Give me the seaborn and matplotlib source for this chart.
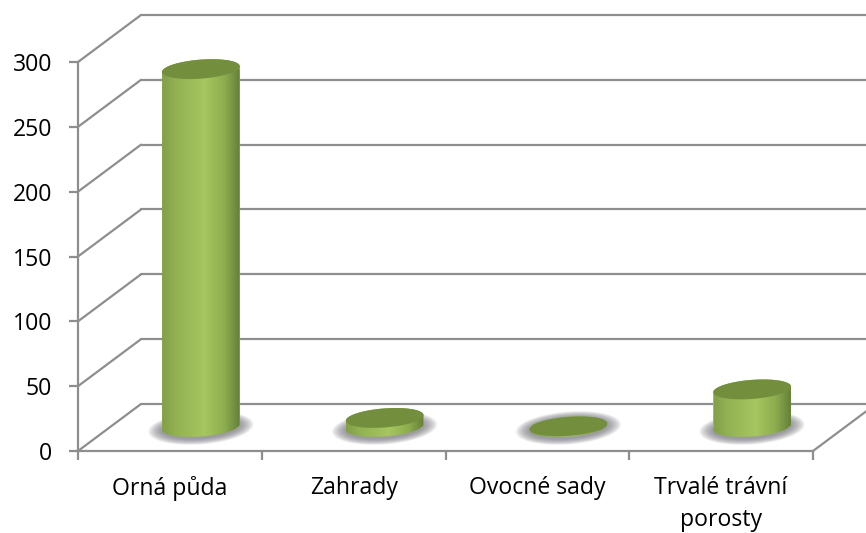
import numpy as np
import pandas as pd
import matplotlib
matplotlib.use("Agg")
import matplotlib.pyplot as plt
import seaborn as sns
from matplotlib.path import Path
from matplotlib.patches import PathPatch
from matplotlib.transforms import Affine2D, IdentityTransform
from matplotlib.colors import LinearSegmentedColormap

categories = ["Orná půda", "Zahrady", "Ovocné sady", "Trvalé trávní\nporosty"]
values = [276, 7, 0.5, 29]
y_ticks = [0, 50, 100, 150, 200, 250, 300]

sns.set_theme(style="white")
plt.rcParams["font.family"] = ["Open Sans", "DejaVu Sans"]

W, H = 866, 533
fig = plt.figure(figsize=(W / 100, H / 100), dpi=100)
ax = fig.add_axes([78 / W, (H - 451) / H, (813 - 78) / W, (451 - 62) / H])

df = pd.DataFrame({"category": categories, "value": values})
sns.barplot(data=df, x="category", y="value", width=0.424, color="#9DBD58",
            saturation=1, ax=ax, zorder=3)
ax.set_xlim(-0.5, 3.5)
ax.set_ylim(0, 300)
ax.set_xlabel("")
ax.set_ylabel("")
ax.set_yticks(y_ticks)
ax.set_xticks(np.arange(len(categories) + 1) - 0.5, minor=True)

GRID = "#8E8E8E"
LW = 1.6
for s in ("top", "right"):
    ax.spines[s].set_visible(False)
for s in ("left", "bottom"):
    ax.spines[s].set_color(GRID)
    ax.spines[s].set_linewidth(LW)
ax.tick_params(axis="y", length=6.5, width=LW, color=GRID, pad=12, labelsize=16.6, labelcolor="black", left=True)
ax.tick_params(axis="x", which="major", length=0, pad=18, labelsize=16.6, labelcolor="black", bottom=False)
ax.tick_params(axis="x", which="minor", length=6.5, width=LW, color=GRID, bottom=True)
for t in ax.get_xticklabels():
    t.set_linespacing(1.42)
for t in ax.get_yticklabels():
    t.set_verticalalignment("center_baseline")

# wall / floor depth offset in pixels
DX, DY = 63, 47
wall = Affine2D().translate(DX, DY)
for v in y_ticks:
    ax.plot([-0.5, 3.5], [v, v], color=GRID, lw=LW, clip_on=False, zorder=1,
            transform=ax.transData + wall)
    x0, y0 = ax.transData.transform((-0.5, v))
    ax.plot([x0, x0 + DX], [y0, y0 + DY], color=GRID, lw=LW, clip_on=False, zorder=1,
            transform=IdentityTransform())
x0, y0 = ax.transData.transform((3.5, 0))
ax.plot([x0, x0 + DX], [y0, y0 + DY], color=GRID, lw=LW, clip_on=False, zorder=1,
        transform=IdentityTransform())

# cylinders
OX, OY = 31, 24
offset = Affine2D().translate(OX, OY)
TILT = np.deg2rad(4.4)
B = 9.5
cmap = LinearSegmentedColormap.from_list(
    "cyl", [(0, "#82A048"), (0.2, "#93B353"), (0.55, "#A5C660"), (0.8, "#8EAD4E"), (1, "#64803A")])
grad = np.linspace(0, 1, 256).reshape(1, -1)


def ell(cx, cy, a, b, t):
    px = a * np.cos(t)
    py = b * np.sin(t)
    return np.column_stack([cx + px * np.cos(TILT) - py * np.sin(TILT),
                            cy + px * np.sin(TILT) + py * np.cos(TILT)])


full = np.linspace(0, 2 * np.pi, 100)
for bar, v in zip(ax.patches, values):
    xc = bar.get_x() + bar.get_width() / 2
    hw = bar.get_width() / 2
    bar.set_transform(ax.transData + offset)
    bx, by = (ax.transData + offset).transform((xc, 0))
    tx, ty = (ax.transData + offset).transform((xc, v))
    a = ax.transData.transform((xc + hw, 0))[0] - ax.transData.transform((xc, 0))[0]

    # soft shadow on the floor
    for k in np.linspace(1, 0, 20):
        ax.add_patch(PathPatch(Path(ell(bx, by - 1, a + 14 * k, B + 1 + 6 * k, full)),
                               fc="#75757C", ec="none", alpha=0.055, zorder=2,
                               transform=IdentityTransform(), clip_on=False))

    body = Path(np.vstack([ell(bx, by, a, B, np.linspace(np.pi, 2 * np.pi, 60)),
                           ell(tx, ty, a, B, np.linspace(0, np.pi, 60))]))
    bar.set_clip_path(body, IdentityTransform())
    bar.set_clip_box(fig.bbox)
    im = ax.imshow(grad, cmap=cmap, aspect="auto", interpolation="bilinear",
                   extent=[xc - hw, xc + hw, -15, v + 15], zorder=3.5,
                   transform=ax.transData + offset)
    im.set_clip_path(body, IdentityTransform())
    im.set_clip_box(fig.bbox)
    ax.add_patch(PathPatch(Path(ell(tx, ty, a, B, full)), fc="#738F3D", ec="none", zorder=4,
                           transform=IdentityTransform(), clip_on=False))

ax.set_xlim(-0.5, 3.5)
ax.set_ylim(0, 300)
fig.savefig("out.png", dpi=100, facecolor="white")
